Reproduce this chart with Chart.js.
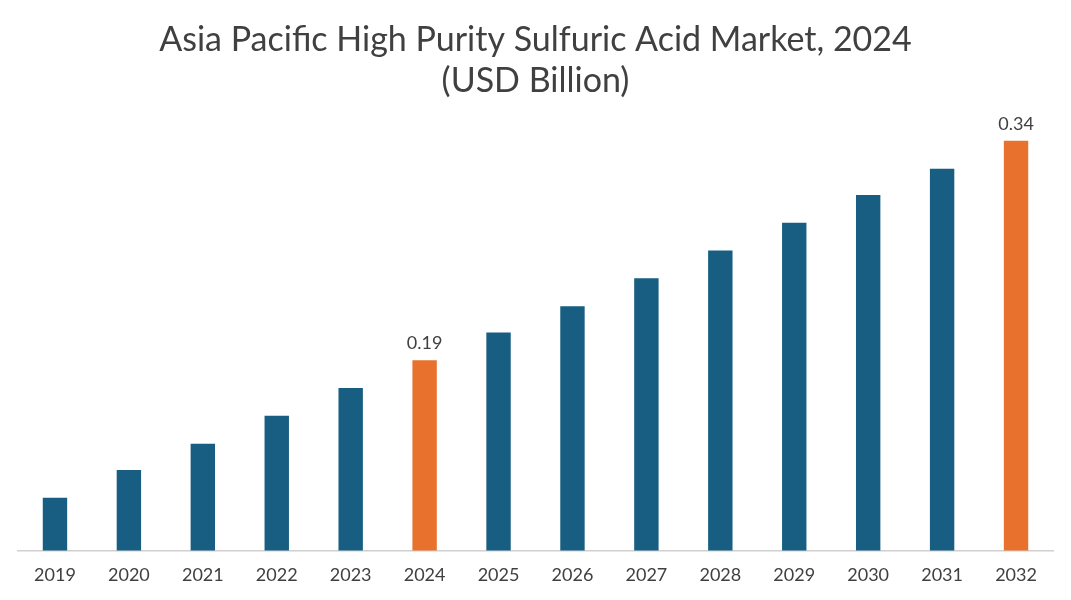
<!DOCTYPE html>
<html><head><meta charset="utf-8">
<script src="https://cdn.jsdelivr.net/npm/chart.js@4"></script>
<style>html,body{margin:0;background:#fff}#w{width:1071px;height:600px}</style>
</head><body><div id="w"><canvas id="c"></canvas></div>
<script>
const years = ["2019","2020","2021","2022","2023","2024","2025","2026","2027","2028","2029","2030","2031","2032"];
const values = [0.096,0.115,0.133,0.152,0.171,0.19,0.209,0.227,0.246,0.265,0.284,0.303,0.321,0.34];
const labelled = {"2024":"0.19","2032":"0.34"};
const blue="#175e82", orange="#e8712d";
const colors = years.map(y => labelled[y] ? orange : blue);
const labelPlugin = {id:"lbl", afterDatasetsDraw(chart){
  const ctx=chart.ctx, meta=chart.getDatasetMeta(0);
  ctx.save(); ctx.font="18px Lato"; ctx.fillStyle="#404040"; ctx.textAlign="center"; ctx.textBaseline="bottom";
  meta.data.forEach((b,i)=>{ if(labelled[years[i]]) ctx.fillText(labelled[years[i]], b.x, b.y-8); });
  ctx.restore();
}};
new Chart(document.getElementById("c"),{
  type:"bar",
  data:{labels:years,datasets:[{data:values,backgroundColor:colors,barPercentage:0.33,categoryPercentage:1}]},
  options:{responsive:true,maintainAspectRatio:false,animation:false,
    layout:{padding:{left:18,right:18,top:0,bottom:0}},
    plugins:{legend:{display:false},tooltip:{enabled:false},
      title:{display:true,text:["Asia Pacific High Purity Sulfuric Acid Market, 2024","(USD Billion)"],
        font:{family:"Lato",size:34,weight:"normal"},color:"#404040",padding:{top:20,bottom:10},lineHeight:1.4}},
    scales:{
      x:{grid:{display:false,drawTicks:false},border:{color:"#d0d0d0",width:1.5},
        ticks:{color:"#404040",font:{family:"Lato",size:18},padding:14}},
      y:{display:false,min:0.06,max:0.36}
    }},
  plugins:[labelPlugin]
});
</script></body></html>
